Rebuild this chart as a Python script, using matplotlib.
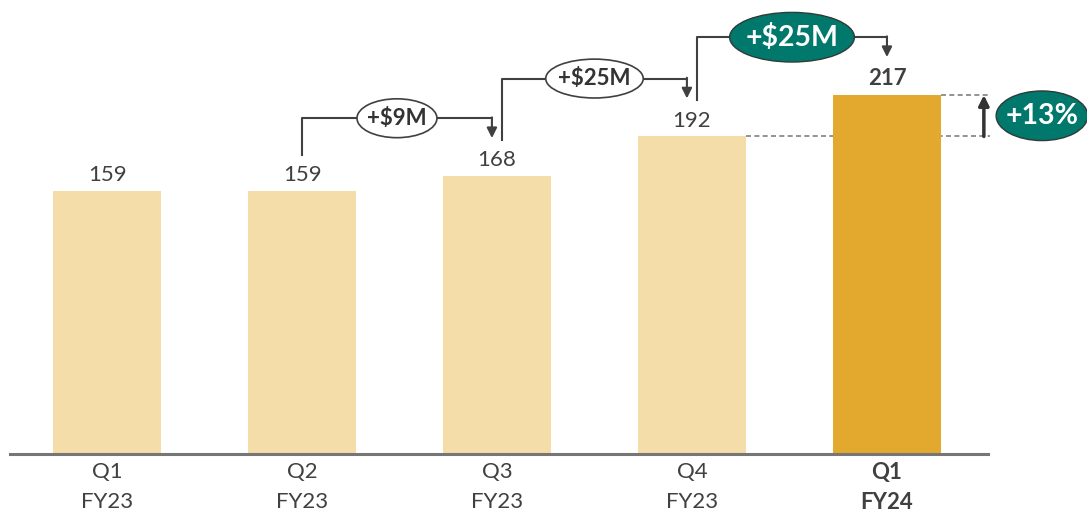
import matplotlib
matplotlib.use("Agg")
import matplotlib.pyplot as plt
from matplotlib.patches import Ellipse

plt.rcParams['font.family'] = ['Lato', 'DejaVu Sans']

quarters = ["Q1", "Q2", "Q3", "Q4", "Q1"]
years = ["FY23", "FY23", "FY23", "FY23", "FY24"]
revenue = [159, 159, 168, 192, 217]
steps = [(1, 2, "+$9M"), (2, 3, "+$25M"), (3, 4, "+$25M")]  # from bar, to bar, label
growth_label = "+13%"

light = "#F5DDAA"
gold = "#E2A92E"
green = "#00786B"
ink = "#404040"

fig = plt.figure(figsize=(10.87, 5.13), dpi=100)
ax = fig.add_axes([0, 0, 1, 1])
ax.set_xlim(-0.549, 5.026)
ax.set_ylim(-35.7, 274.5)
ax.axis("off")

x = list(range(len(revenue)))
colors = [light] * (len(revenue) - 1) + [gold]
ax.bar(x, revenue, width=0.554, color=colors, zorder=2)
ax.plot([-0.497, 4.518], [0, 0], color="#767676", lw=2.2, zorder=3)

for i, v in enumerate(revenue):
    last = i == len(revenue) - 1
    w = "bold" if last else "normal"
    ax.text(i, v + 6, str(v), ha="center", va="baseline", fontsize=16,
            color=ink, fontweight=w)
    ax.text(i, -11.2, quarters[i], ha="center", va="center", fontsize=16,
            color=ink, fontweight=w)
    ax.text(i, -29.2, years[i], ha="center", va="center", fontsize=16,
            color=ink, fontweight=w)

# step connectors between bars
for k, (a, b, lab) in enumerate(steps):
    top = revenue[b] + 35
    x0 = a + (0 if k == 0 else 0.026)
    x1 = b - (0 if k == 2 else 0.026)
    ax.plot([x0, x0, x1], [revenue[a] + 22, top, top], color=ink, lw=1.5, zorder=3)
    ax.annotate("", xy=(x1, revenue[b] + 23), xytext=(x1, top + 0.5),
                arrowprops=dict(arrowstyle="-|>,head_length=0.6,head_width=0.3",
                                color=ink, lw=1.5, shrinkA=0, shrinkB=0), zorder=3)
    xm = (x0 + x1) / 2
    big = k == len(steps) - 1
    if big:
        ax.add_patch(Ellipse((xm, top), 0.64, 30, facecolor=green,
                             edgecolor="#2e3b38", lw=1, zorder=4))
        ax.text(xm, top, lab, ha="center", va="center", fontsize=20.5,
                fontweight="bold", color="white", zorder=5)
    else:
        w = 0.41 if len(lab) < 5 else 0.50
        ax.add_patch(Ellipse((xm, top), w, 23.5, facecolor="white",
                             edgecolor=ink, lw=1.2, zorder=4))
        ax.text(xm, top, lab, ha="center", va="center", fontsize=16,
                fontweight="bold", color="#333333", zorder=5)

# growth marker on the right
prev, cur = revenue[-2], revenue[-1]
ax.plot([3 + 0.277, 4.528], [prev, prev], ls=(0, (3, 2)), color="#808080", lw=1.2, zorder=1)
ax.plot([4 + 0.277, 4.528], [cur, cur], ls=(0, (3, 2)), color="#808080", lw=1.2, zorder=1)
ax.annotate("", xy=(4.497, cur), xytext=(4.497, prev),
            arrowprops=dict(arrowstyle="-|>,head_length=0.6,head_width=0.3",
                            color="#333333", lw=2.5, shrinkA=0, shrinkB=0))
ax.add_patch(Ellipse((4.795, (prev + cur) / 2), 0.47, 30, facecolor=green,
                     edgecolor="#2e3b38", lw=1, zorder=4))
ax.text(4.795, (prev + cur) / 2, growth_label, ha="center", va="center",
        fontsize=20.5, fontweight="bold", color="white", zorder=5)

fig.savefig("out.png", dpi=100)
